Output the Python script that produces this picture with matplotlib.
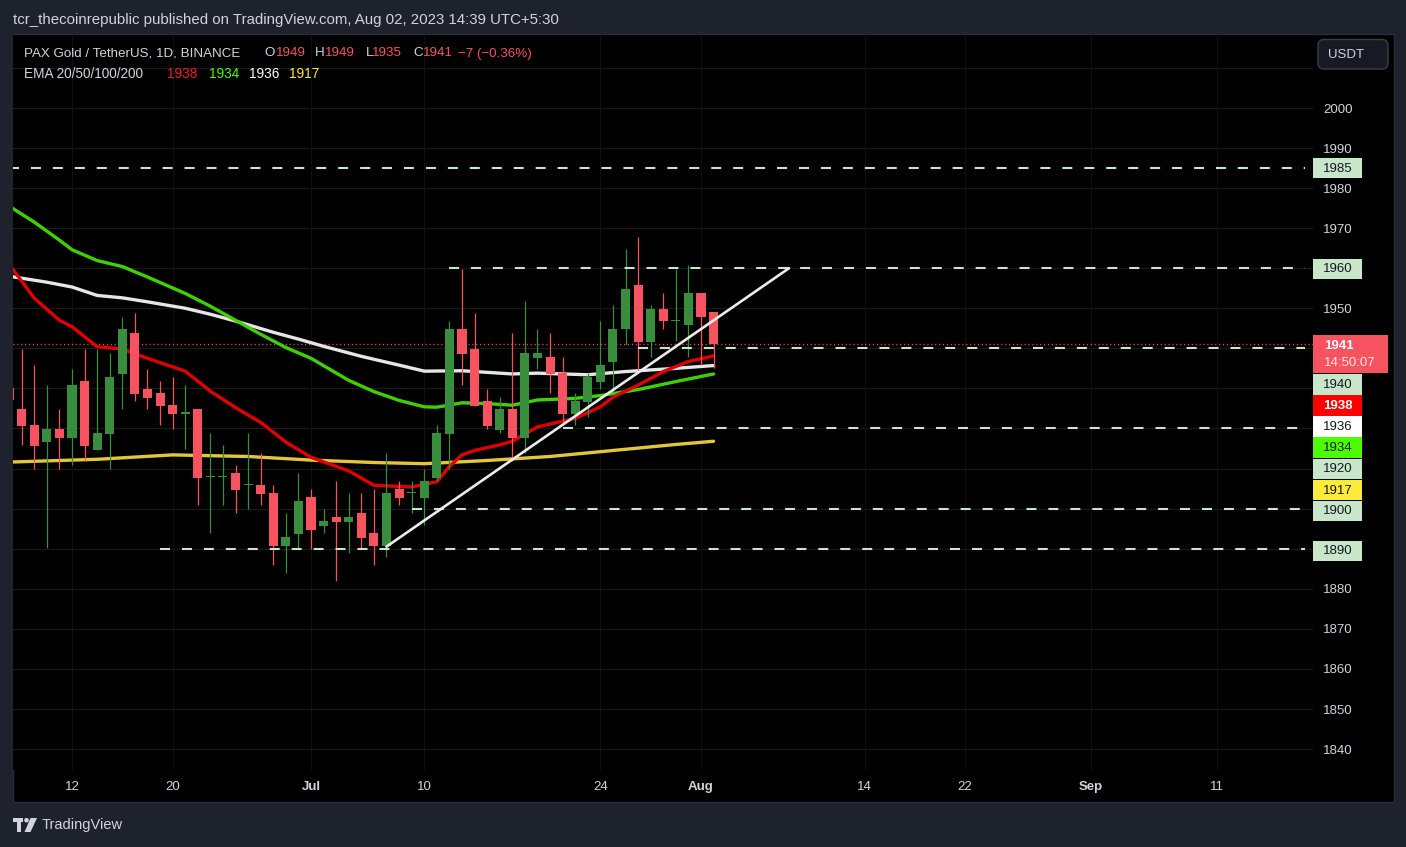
import matplotlib
matplotlib.use('Agg')
import matplotlib.pyplot as plt
import matplotlib.dates as mdates
import matplotlib.transforms as mtransforms
from matplotlib.patches import Rectangle, FancyBboxPatch, Circle, Polygon
import pandas as pd

plt.rcParams['font.family'] = ['Liberation Sans', 'DejaVu Sans']
plt.rcParams['lines.scale_dashes'] = False

W, H = 1406, 847

# daily candles, PAXG/USDT
dates = pd.date_range('2023-06-07', '2023-08-02', freq='D')
opens = [1930.0, 1924.9, 1920.9, 1916.7, 1919.9, 1917.7, 1931.9, 1914.7, 1918.7, 1933.7,
         1943.8, 1929.9, 1928.9, 1925.9, 1923.7, 1924.9, 1907.8, 1907.8, 1908.9, 1905.8,
         1905.9, 1903.9, 1890.7, 1893.7, 1902.9, 1895.7, 1897.9, 1896.7, 1898.9, 1893.9,
         1890.7, 1904.9, 1903.9, 1902.7, 1907.7, 1918.7, 1944.8, 1939.8, 1926.9, 1919.7,
         1924.9, 1917.7, 1937.7, 1937.8, 1933.9, 1923.7, 1926.7, 1931.7, 1936.7, 1944.7,
         1955.8, 1941.7, 1949.8, 1946.8, 1945.7, 1953.8, 1949.0]
highs = [1935.8, 1939.8, 1935.8, 1930.9, 1924.9, 1934.9, 1939.8, 1939.8, 1938.8, 1947.8,
         1948.8, 1934.9, 1931.9, 1932.9, 1930.9, 1924.9, 1918.9, 1915.9, 1910.9, 1918.9,
         1913.9, 1905.9, 1898.9, 1908.9, 1904.9, 1899.9, 1906.9, 1903.9, 1903.9, 1904.9,
         1913.9, 1906.9, 1906.9, 1909.9, 1920.9, 1946.8, 1959.8, 1948.8, 1929.9, 1927.9,
         1943.8, 1951.8, 1944.8, 1943.8, 1937.8, 1928.9, 1933.9, 1946.8, 1950.8, 1964.8,
         1967.8, 1950.8, 1953.8, 1959.8, 1960.8, 1953.8, 1949.0]
lows = [1923.9, 1915.9, 1909.9, 1890.2, 1909.9, 1910.9, 1911.9, 1914.7, 1909.9, 1924.9,
        1926.9, 1924.9, 1920.9, 1919.9, 1914.9, 1900.9, 1893.9, 1900.9, 1898.9, 1899.9,
        1900.9, 1885.9, 1883.9, 1889.9, 1889.9, 1893.9, 1881.9, 1888.9, 1889.9, 1885.9,
        1887.9, 1900.9, 1898.9, 1895.9, 1906.9, 1909.9, 1930.9, 1925.7, 1919.9, 1918.9,
        1911.9, 1913.9, 1934.9, 1928.9, 1921.7, 1920.9, 1922.9, 1929.9, 1929.2, 1940.8,
        1933.9, 1937.8, 1944.8, 1941.8, 1937.8, 1935.8, 1935.0]
closes = [1927.0, 1920.7, 1915.7, 1919.9, 1917.7, 1930.9, 1915.7, 1918.9, 1932.9, 1944.8,
          1928.7, 1927.7, 1925.7, 1923.7, 1923.7, 1907.7, 1907.8, 1907.8, 1904.7, 1905.8,
          1903.7, 1890.7, 1892.9, 1901.9, 1894.7, 1896.9, 1896.7, 1897.9, 1892.7, 1890.7,
          1903.9, 1902.7, 1903.9, 1906.9, 1918.9, 1944.8, 1938.7, 1925.7, 1920.7, 1924.9,
          1917.7, 1938.8, 1938.8, 1933.7, 1923.7, 1926.9, 1932.9, 1935.8, 1944.8, 1954.8,
          1941.7, 1949.8, 1946.7, 1946.8, 1953.8, 1947.7, 1941.0]

# EMA 20/50/100/200
ema20_dates = ['2023-06-07', '2023-06-09', '2023-06-11', '2023-06-12', '2023-06-14', '2023-06-16',
               '2023-06-18', '2023-06-21', '2023-06-23', '2023-06-25', '2023-06-27', '2023-06-29',
               '2023-07-01', '2023-07-04', '2023-07-06', '2023-07-09', '2023-07-11', '2023-07-12',
               '2023-07-13', '2023-07-14', '2023-07-16', '2023-07-17', '2023-07-19', '2023-07-21',
               '2023-07-22', '2023-07-24', '2023-07-25', '2023-07-27', '2023-07-29', '2023-07-31',
               '2023-08-02']
ema20 = [1961.0, 1952.5, 1947.0, 1945.4, 1940.4, 1939.8, 1937.5, 1934.3, 1929.3, 1925.2, 1921.5,
         1916.6, 1912.8, 1909.4, 1905.8, 1905.4, 1906.7, 1910.5, 1913.4, 1914.5, 1915.9, 1916.8,
         1920.4, 1921.8, 1922.5, 1925.4, 1927.8, 1930.8, 1934.2, 1936.7, 1938.1]

ema50_dates = ['2023-06-07', '2023-06-09', '2023-06-11', '2023-06-12', '2023-06-14', '2023-06-16',
               '2023-06-18', '2023-06-21', '2023-06-23', '2023-06-25', '2023-06-27', '2023-06-29',
               '2023-07-01', '2023-07-04', '2023-07-06', '2023-07-08', '2023-07-10', '2023-07-11',
               '2023-07-13', '2023-07-15', '2023-07-17', '2023-07-19', '2023-07-22', '2023-07-24',
               '2023-07-27', '2023-07-30', '2023-08-02']
ema50 = [1975.5, 1971.5, 1967.0, 1964.6, 1961.9, 1960.4, 1957.8, 1953.7, 1950.5, 1947.0, 1943.5,
         1940.2, 1937.5, 1932.0, 1929.2, 1927.0, 1925.4, 1925.3, 1926.4, 1926.2, 1925.8, 1927.1,
         1927.5, 1928.2, 1929.7, 1931.7, 1933.6]

ema100_dates = ['2023-06-07', '2023-06-10', '2023-06-12', '2023-06-14', '2023-06-16', '2023-06-18',
                '2023-06-21', '2023-06-23', '2023-06-25', '2023-06-28', '2023-06-30', '2023-07-02',
                '2023-07-05', '2023-07-08', '2023-07-10', '2023-07-13', '2023-07-17', '2023-07-19',
                '2023-07-23', '2023-07-26', '2023-07-30', '2023-08-02']
ema100 = [1958.0, 1956.5, 1955.3, 1953.2, 1952.6, 1951.6, 1950.0, 1948.5, 1946.8, 1944.0, 1942.3,
          1940.5, 1938.0, 1935.8, 1934.3, 1934.4, 1933.6, 1933.8, 1933.4, 1934.2, 1935.0, 1935.7]

ema200_dates = ['2023-06-07', '2023-06-14', '2023-06-20', '2023-06-26', '2023-07-01', '2023-07-06',
                '2023-07-10', '2023-07-15', '2023-07-20', '2023-07-25', '2023-07-30', '2023-08-02']
ema200 = [1911.6, 1912.3, 1913.4, 1913.0, 1912.1, 1911.5, 1911.2, 1912.0, 1913.0, 1914.5, 1916.0,
          1916.8]

# drawn trend line
trend_dates = ['2023-07-07', '2023-08-08']
trend_prices = [1890.5, 1960.0]

# dashed horizontal levels and where they start
level_prices = [1985, 1960, 1940, 1920, 1900, 1890]
level_starts = ['2023-06-07', '2023-07-12', '2023-07-27', '2023-07-21', '2023-07-09', '2023-06-19']
last_price = 1941

# time axis
tick_dates = ['2023-06-12', '2023-06-20', '2023-07-01', '2023-07-10', '2023-07-24',
              '2023-08-01', '2023-08-14', '2023-08-22', '2023-09-01', '2023-09-11']
tick_labels = ['12', '20', 'Jul', '10', '24', 'Aug', '14', '22', 'Sep', '11']
price_ticks = list(range(1840, 2011, 10))
# scale labels hidden behind the tags
hidden_ticks = [1890, 1900, 1910, 1920, 1930, 1940, 1960]

# price scale tags (text, y pixel, face, text colour)
tag_text = ['1985', '1960', '1940', '1938', '1936', '1934', '1920', '1917', '1900', '1890']
tag_y = [168, 269, 384.5, 405.5, 426.5, 447.5, 469, 490, 511, 551]
tag_face = ['#c8e6c9', '#c8e6c9', '#c8e6c9', '#ff0000', '#ffffff', '#4cff00',
            '#c8e6c9', '#ffeb3b', '#c8e6c9', '#c8e6c9']
tag_color = ['#131722', '#131722', '#131722', '#ffffff', '#131722', '#131722',
             '#131722', '#131722', '#131722', '#131722']

UP, DOWN = '#388e3c', '#f7525f'
TXT = '#d1d4dc'

fig = plt.figure(figsize=(W / 100, H / 100), dpi=100)
fig.patch.set_facecolor('#1e222d')

# background layer in pixel coordinates
bg = fig.add_axes([0, 0, 1, 1], zorder=0)
bg.set_xlim(0, W)
bg.set_ylim(H, 0)
bg.axis('off')
bg.add_patch(Rectangle((12.5, 34), 1381, 768, facecolor='black', edgecolor='#2a2e39', lw=1))

# main chart
ax = fig.add_axes([13 / W, 77 / H, 1300 / W, 735 / H], zorder=1)
ax.set_facecolor('black')
for s in ax.spines.values():
    s.set_visible(False)
ax.set_xticks([])
ax.set_yticks([])

x0 = mdates.date2num(pd.Timestamp('2023-06-12'))
ax.set_xlim(x0 - 4.69, x0 + 98.65)
ax.set_ylim(1834.75, 2018.2)

# grid
for p in price_ticks:
    ax.axhline(p, color='#1b1b1b', lw=0.8, zorder=0)
for d in tick_dates:
    ax.axvline(mdates.date2num(pd.Timestamp(d)), color='#101010', lw=0.8, zorder=0)

# EMAs
def dn(lst):
    return mdates.date2num(pd.to_datetime(lst))

ax.plot(dn(ema200_dates), ema200, color='#e3c73a', lw=2.4, zorder=2, solid_capstyle='round')
ax.plot(dn(ema100_dates), ema100, color='#e6e6e6', lw=2.4, zorder=2, solid_capstyle='round')
ax.plot(dn(ema50_dates), ema50, color='#3fd000', lw=2.4, zorder=2, solid_capstyle='round')
ax.plot(dn(ema20_dates), ema20, color='#e00000', lw=2.4, zorder=2, solid_capstyle='round')

# candles
xs = mdates.date2num(dates)
for x, o, h, l, c in zip(xs, opens, highs, lows, closes):
    col = UP if c >= o else DOWN
    ax.vlines(x, l, h, color=col, lw=0.9, zorder=3)
    ax.bar(x, max(abs(c - o), 0.3), bottom=min(o, c), width=0.72, color=col, lw=0, zorder=4)

# dashed levels
x_right = x0 + 98.0
for p, s in zip(level_prices, level_starts):
    ax.hlines(p, mdates.date2num(pd.Timestamp(s)), x_right, color='#c8e6c9',
              lw=1.5, linestyles=[(0, (7.2, 8.6))], zorder=5)

# last price dotted line
ax.axhline(last_price + 0.2, color=DOWN, lw=1.0, ls=(0, (0.8, 2.0)), zorder=1)

# trend line
ax.plot(dn(trend_dates), trend_prices, color='#ececec', lw=1.9, zorder=6, solid_capstyle='round')

# price scale labels
tr_y = mtransforms.blended_transform_factory(ax.transAxes, ax.transData)
for p in price_ticks:
    if 1835 < p < 2010 and p not in hidden_ticks:
        ax.text((1338 - 13) / 1300, p - 0.4, str(p), transform=tr_y, ha='center', va='center',
                color=TXT, fontsize=9.5, clip_on=False)

# time labels
tr_x = mtransforms.blended_transform_factory(ax.transData, ax.transAxes)
for d, lab in zip(tick_dates, tick_labels):
    bold = not lab.isdigit()
    ax.text(mdates.date2num(pd.Timestamp(d)), -17 / 735, lab, transform=tr_x, ha='center',
            va='center', color=TXT, fontsize=9.5, fontweight='bold' if bold else 'normal',
            clip_on=False)

# overlay: tags, header, legend
ov = fig.add_axes([0, 0, 1, 1], zorder=2)
ov.set_xlim(0, W)
ov.set_ylim(H, 0)
ov.axis('off')
ov.patch.set_visible(False)

for t, y, fc, tc in zip(tag_text, tag_y, tag_face, tag_color):
    ov.add_patch(Rectangle((1313, y - 10.3), 49, 20.6, facecolor=fc, lw=0))
    ov.text(1337.5, y + 0.5, t, ha='center', va='center', color=tc, fontsize=9.5,
            fontweight='bold' if tc == '#ffffff' else 'normal')

ov.add_patch(Rectangle((1313, 335), 75, 38, facecolor=DOWN, lw=0))
ov.text(1324, 346, '1941', ha='left', va='center', color='white', fontsize=9.5, fontweight='bold')
ov.text(1324, 363.5, '14:50:07', ha='left', va='center', color='#ffe8ea', fontsize=9.5)

ov.add_patch(FancyBboxPatch((1318, 39.5), 70, 29.5, boxstyle='round,pad=0,rounding_size=6',
                            facecolor='#171a22', edgecolor='#3a3e4a', lw=1))
ov.text(1346, 54.5, 'USDT', ha='center', va='center', color=TXT, fontsize=9.5)

ov.text(13, 20, 'tcr_thecoinrepublic published on TradingView.com, Aug 02, 2023 14:39 UTC+5:30',
        ha='left', va='center', color=TXT, fontsize=10.8)

legend1 = [(23.7, 'PAX Gold / TetherUS, 1D, BINANCE', TXT), (264, 'O', TXT), (275.5, '1949', DOWN),
           (314.6, 'H', TXT), (324.5, '1949', DOWN), (365.5, 'L', TXT), (371.5, '1935', DOWN),
           (413, 'C', TXT), (422.5, '1941', DOWN), (458, '\u22127 (\u22120.36%)', DOWN)]
for x, t, c in legend1:
    ov.text(x, 53.5, t, ha='left', va='center', color=c, fontsize=9.6)
legend2 = [(23.7, 'EMA 20/50/100/200', TXT), (167, '1938', '#f01e1e'), (208.6, '1934', '#4cff00'),
           (248.8, '1936', '#ffffff'), (289, '1917', '#ffeb3b')]
for x, t, c in legend2:
    ov.text(x, 74.5, t, ha='left', va='center', color=c, fontsize=9.8)

# TradingView logo + name
ov.add_patch(Rectangle((12.5, 818), 10.5, 4.2, facecolor='#d1d4dc', lw=0))
ov.add_patch(Rectangle((16.5, 818), 4.2, 14, facecolor='#d1d4dc', lw=0))
ov.add_patch(Circle((26.5, 820.2), 2.3, facecolor='#d1d4dc', lw=0))
ov.add_patch(Polygon([(30.5, 818), (37, 818), (30.5, 832), (24.5, 832)], closed=True,
                     facecolor='#d1d4dc', lw=0))
ov.text(42, 825.5, 'TradingView', ha='left', va='center', color=TXT, fontsize=10.5)

fig.savefig('out.png', dpi=100, facecolor=fig.get_facecolor())
